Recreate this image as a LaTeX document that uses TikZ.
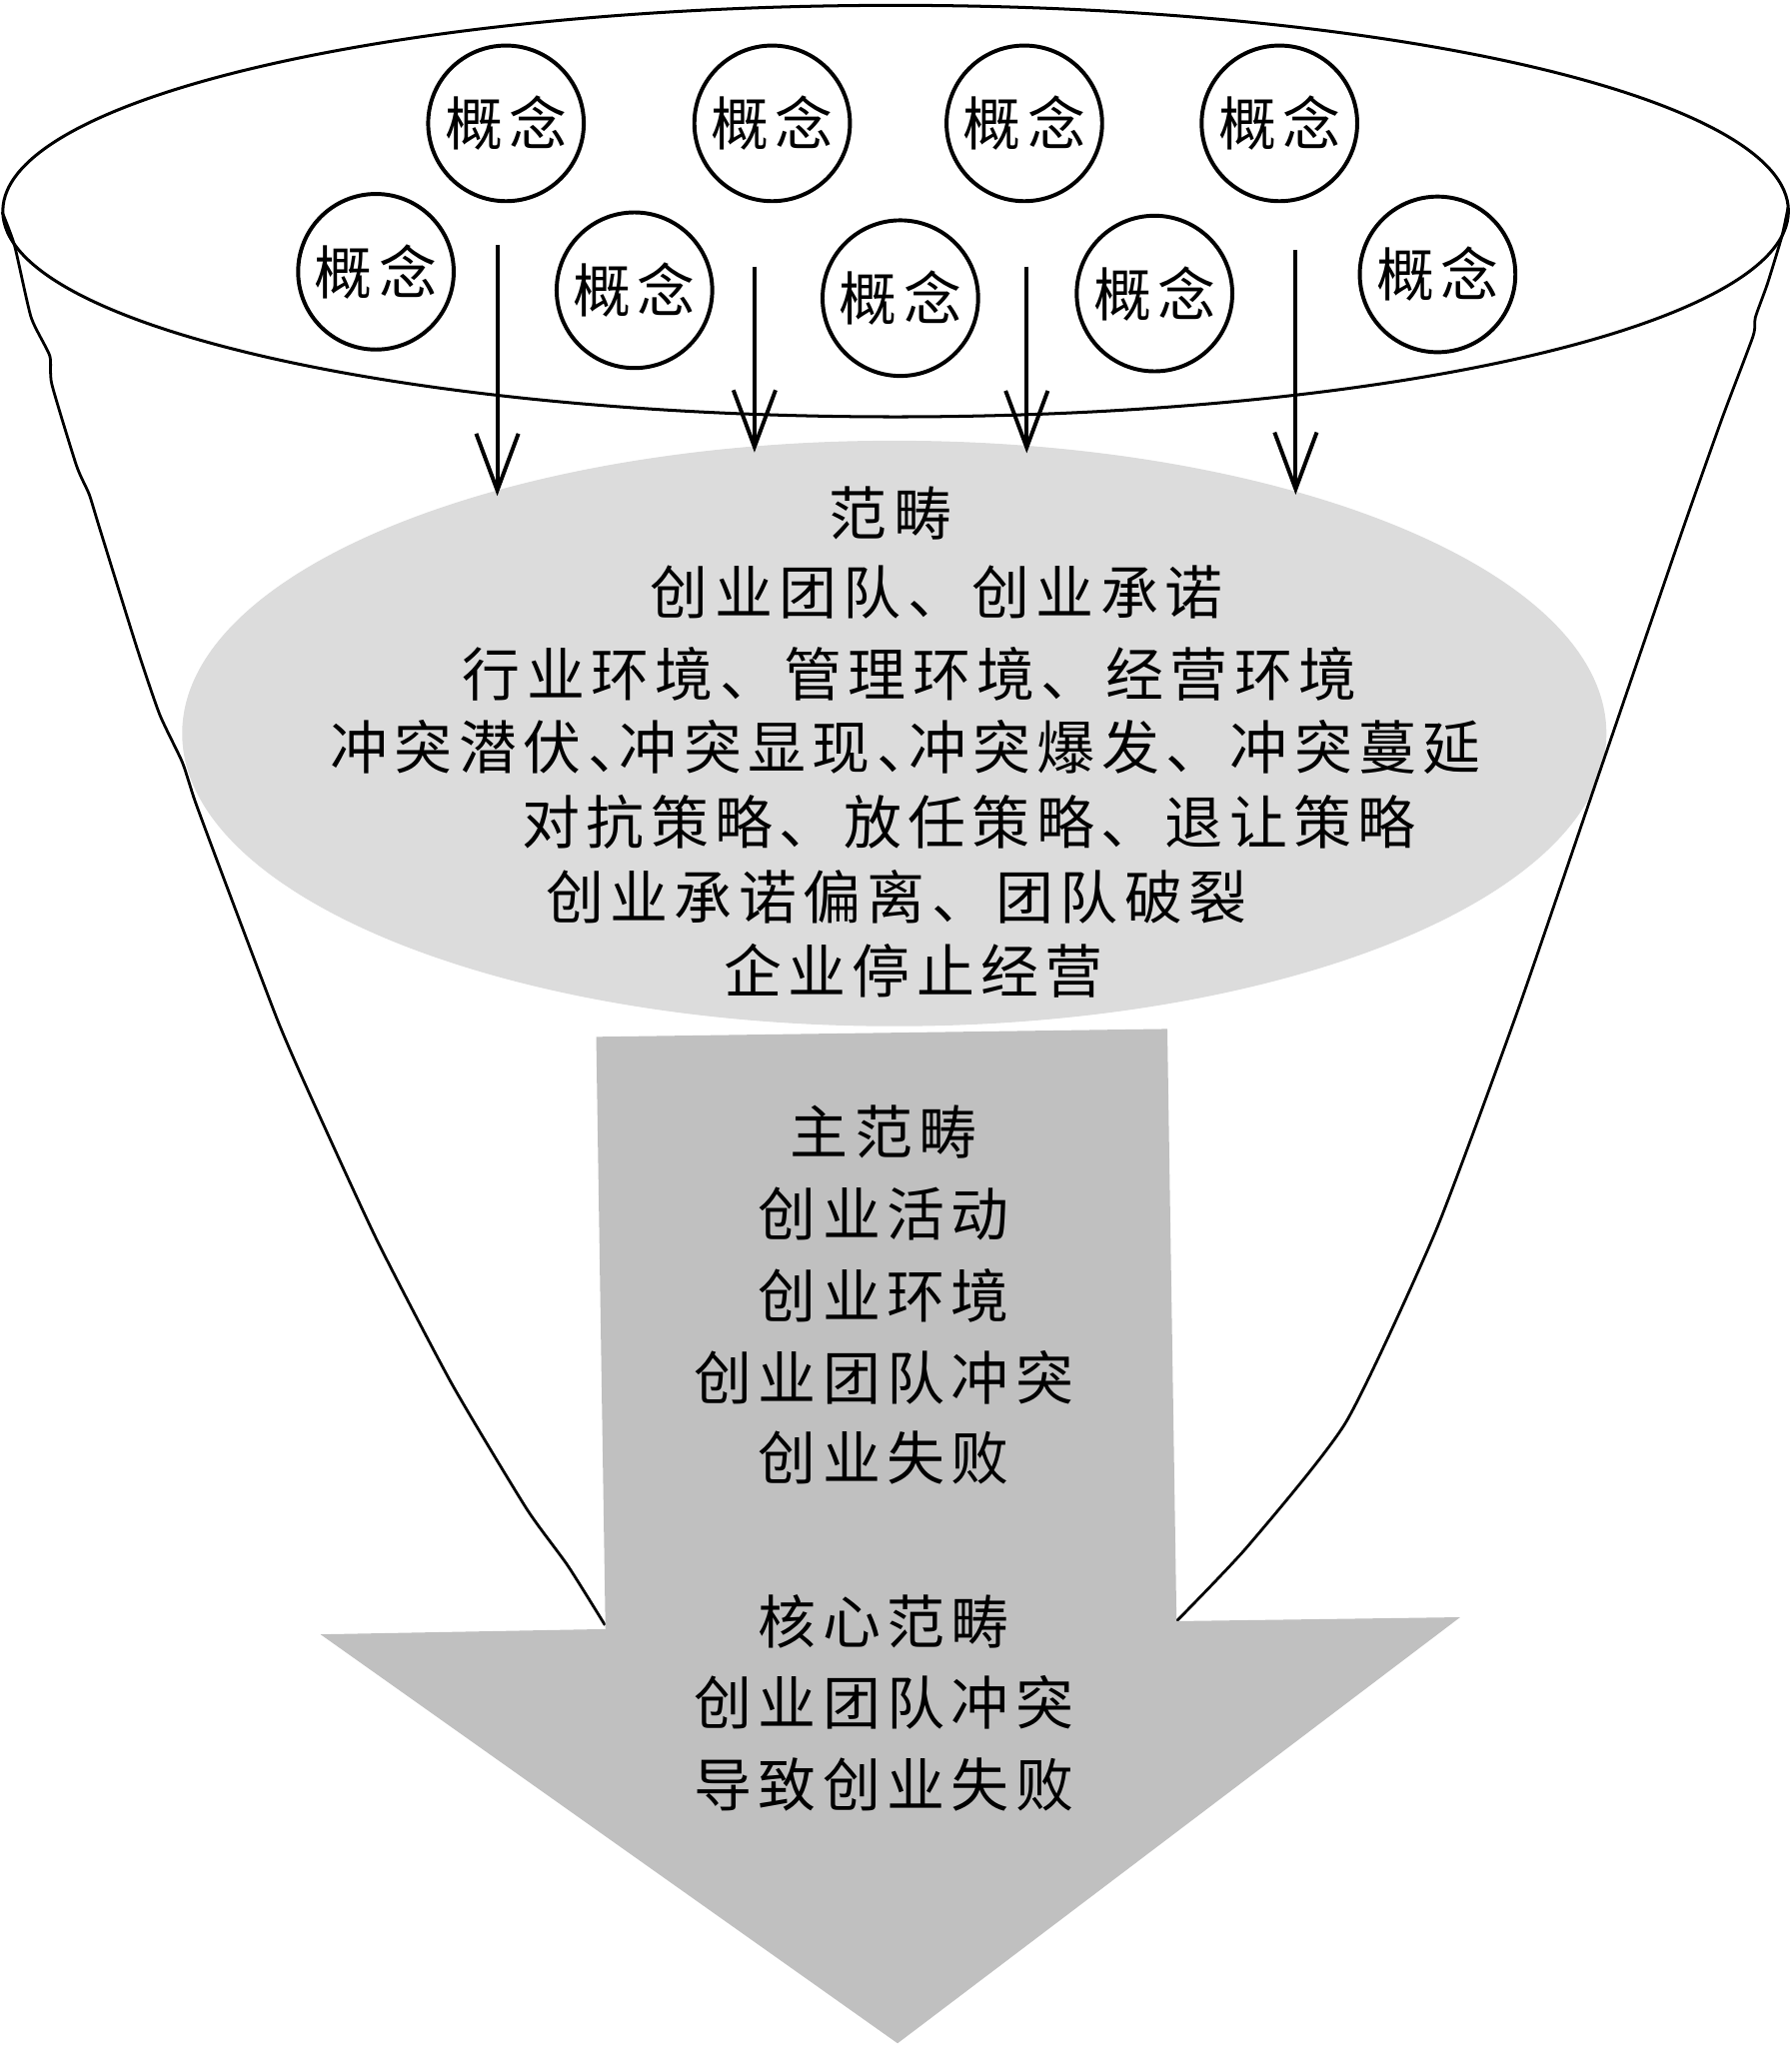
\documentclass[tikz,border=0pt]{standalone}
\usepackage{fontspec}
\newfontfamily\cjk[LetterSpace=11]{Noto Sans CJK SC}
\usetikzlibrary{arrows.meta}
\definecolor{ellgray}{HTML}{DCDCDC}
\definecolor{arrgray}{HTML}{C0C0C0}
\begin{document}
\begin{tikzpicture}[x=0.02cm,y=-0.02cm,
  txt/.style={font=\cjk\fontsize{25pt}{30pt}\selectfont, inner sep=0pt},
  conc/.style={circle, draw, line width=1.7pt, fill=white, minimum size=2.36cm, inner sep=0pt, font=\cjk\fontsize{25pt}{30pt}\selectfont},
  fun/.style={line width=1.2pt, line join=round},
  down/.style={line width=1.7pt, -{Straight Barb[length=0.86cm,width=0.64cm]}}]
\useasboundingbox (0,0) rectangle (1358,1570);
% category ellipse
\fill[ellgray] (678,556) ellipse [x radius=10.8cm, y radius=4.44cm];
\node (cat) at (678,556) {};
% top rim
\draw[line width=1.3pt] (679,160) ellipse [x radius=13.54cm, y radius=3.12cm];
% funnel sides
\draw[fun] plot[smooth, tension=0.35] coordinates {(1.6,160.7) (11,186) (23.6,240.6) (37.7,269.6) (39.3,291.3) (58,353) (67.6,374.7) (75.4,400) (103.7,490.8) (121,541.5) (138.2,577.8) (147.7,606.8) (166.5,657.5) (210.5,773.6) (235.6,831.3) (285.9,940.4) (342.5,1049) (399,1143.4) (430.4,1186.8) (458.7,1232)};
\draw[fun] plot[smooth, tension=0.35] coordinates {(1355.6,157.2) (1351,178.8) (1340,215) (1330.8,240.6) (1329,255) (1305.7,316.8) (1274.9,403.8) (1212.8,585) (1150.7,766) (1088.6,933) (1020.5,1078) (945.8,1172.4) (892,1229)};
% concept circles
\node[conc] (c1) at (383.6,93.5) {概念};
\node[conc] (c2) at (585.4,93.5) {概念};
\node[conc] (c3) at (776.6,93.5) {概念};
\node[conc] (c4) at (970,93.5) {概念};
\node[conc] (c5) at (285,206) {概念};
\node[conc] (c6) at (481,220) {概念};
\node[conc] (c7) at (682.6,226) {概念};
\node[conc] (c8) at (875.3,222.5) {概念};
\node[conc] (c9) at (1089.9,208) {概念};
% arrows into categories
\coordinate (a1s) at (377,186);   \coordinate (a1e) at (377,376);
\coordinate (a2s) at (572,202);   \coordinate (a2e) at (572,343);
\coordinate (a3s) at (778.4,202); \coordinate (a3e) at (778.4,343.5);
\coordinate (a4s) at (982.3,189.5); \coordinate (a4e) at (982.3,375);
\draw[down] (a1s) -- (a1e);
\draw[down] (a2s) -- (a2e);
\draw[down] (a3s) -- (a3e);
\draw[down] (a4s) -- (a4e);
% big arrow
\fill[arrgray] (452,786) -- (885,780) -- (892,1229) -- (1107,1226) -- (680.5,1549) -- (243,1239) -- (459,1235) -- cycle;
\node (big) at (675,1100) {};
% category text
\node[txt] (t0) at (675,389) {范畴};
\node[txt] (t1) at (710,448.7) {创业团队、创业承诺};
\node[txt] (t2) at (689.6,511) {行业环境、管理环境、经营环境};
\node[txt] (t3) at (686.7,566.5) {冲突潜伏、\kern-0.45em冲突显现、\kern-0.45em冲突爆发、冲突蔓延};
\node[txt] (t4) at (734.7,623) {对抗策略、放任策略、退让策略};
\node[txt] (t5) at (679.6,680) {创业承诺偏离、团队破裂};
\node[txt] (t6) at (692.6,735.6) {企业停止经营};
% main category text
\node[txt] (m0) at (670,858) {主范畴};
\node[txt] (m1) at (670,920) {创业活动};
\node[txt] (m2) at (670,982) {创业环境};
\node[txt] (m3) at (670,1044) {创业团队冲突};
\node[txt] (m4) at (670,1105) {创业失败};
% core category text
\node[txt] (k0) at (670,1229) {核心范畴};
\node[txt] (k1) at (670,1291) {创业团队冲突};
\node[txt] (k2) at (670,1353) {导致创业失败};
\end{tikzpicture}
\end{document}
